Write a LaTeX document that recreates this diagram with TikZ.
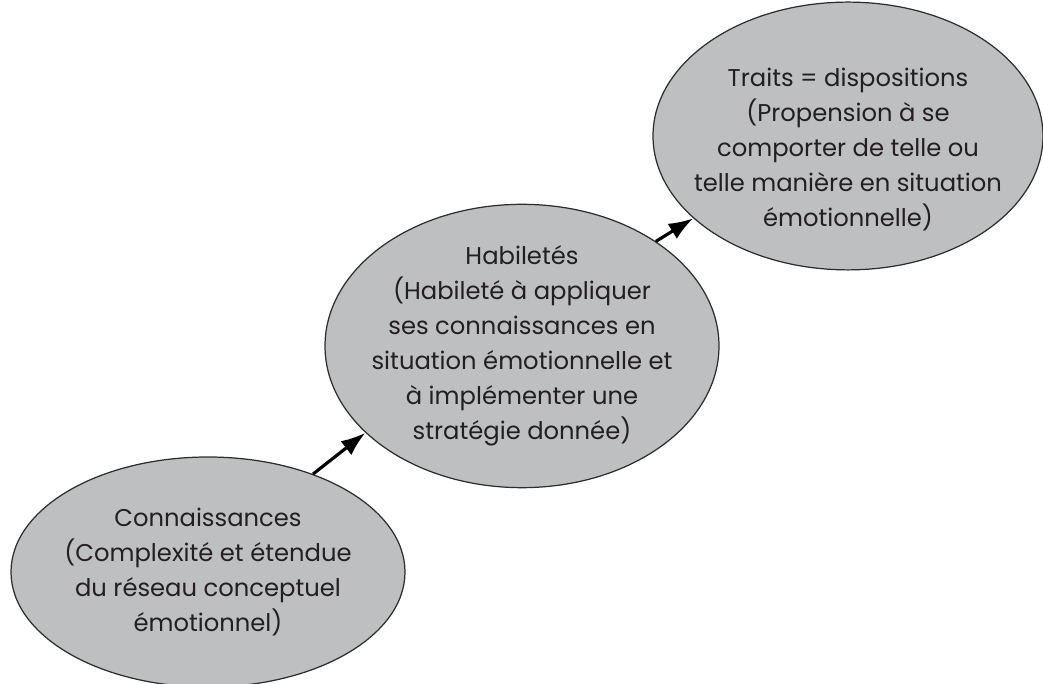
\documentclass[tikz,border=0pt]{standalone}
\usepackage{fontspec}
\setmainfont{Poppins}
\usepackage{tikz}
\usetikzlibrary{shapes.geometric}
\usetikzlibrary{arrows.meta}
\definecolor{bullefill}{RGB}{190,191,193}
\definecolor{bulledraw}{RGB}{45,45,45}
\definecolor{texte}{RGB}{35,31,32}

\begin{document}
\begin{tikzpicture}
			\tikzset{bulle/.style = {shape=ellipse, draw=bulledraw, fill=bullefill,
					line width=0.7pt, inner xsep=-1cm, inner ysep=0pt, align=center,
					text=texte, font=\fontsize{13.8}{19.9}\selectfont}}
			\tikzset{edge/.style = {-{Latex[length=14pt,width=10pt]}, line width=1.8pt}}
			\useasboundingbox (0,0) rectangle (20.86,13.68);
			
			% ellipses
			\node[bulle, minimum width=7.88cm, minimum height=4.6cm] (conn) at (4.16,2.24)
				{Connaissances\\(Complexité et étendue\\du réseau conceptuel\\émotionnel)};
			\node[bulle, minimum width=7.88cm, minimum height=4.88cm] (hab) at (10.44,6.76)
				{Habiletés\\(Habileté à appliquer\\ses connaissances en\\situation émotionnelle et\\à implémenter une\\stratégie donnée)};
			\node[bulle, minimum width=7.8cm, minimum height=4.9cm] (traits) at (16.96,10.96)
				{\mbox{}\\[0.2cm]Traits = dispositions\\(Propension à se\\comporter de telle ou\\telle manière en situation\\émotionnelle)};
			
			%edges
			\draw[edge] (conn.43) to (hab.209);
			\draw[edge] (hab.38) to (traits.208);
			
\end{tikzpicture}
\end{document}
